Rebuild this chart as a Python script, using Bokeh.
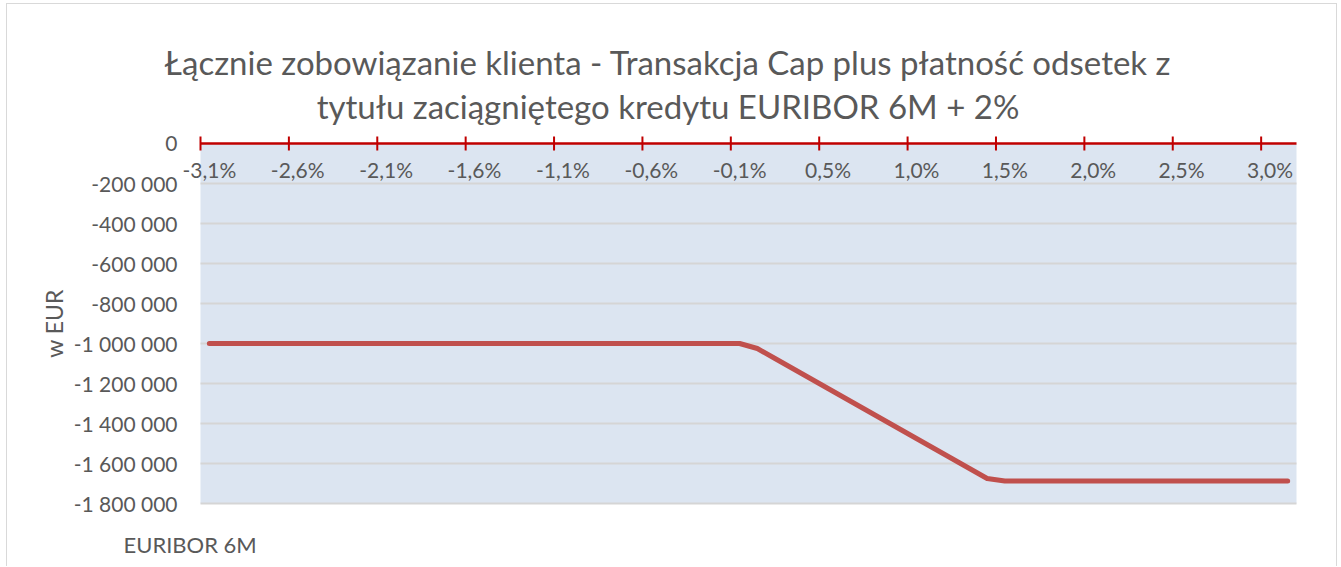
import math
from bokeh.plotting import figure
from bokeh.models import Range1d
from bokeh.core.properties import value
from bokeh.embed import file_html
from bokeh.resources import INLINE

# EURIBOR 6M scenarios (category axis)
euribor = [-3.05, -2.95, -2.85, -2.75, -2.65, -2.55, -2.45, -2.35, -2.25, -2.15,
           -2.05, -1.95, -1.85, -1.75, -1.65, -1.55, -1.45, -1.35, -1.25, -1.15,
           -1.05, -0.95, -0.85, -0.75, -0.65, -0.55, -0.45, -0.35, -0.25, -0.15,
           -0.05, 0.05, 0.15, 0.25, 0.35, 0.45, 0.55, 0.65, 0.75, 0.85,
           0.95, 1.05, 1.15, 1.25, 1.35, 1.45, 1.55, 1.65, 1.75, 1.85,
           1.95, 2.05, 2.15, 2.25, 2.35, 2.45, 2.55, 2.65, 2.75, 2.85,
           2.95, 3.05]

# total client liability, EUR
liability = [-1000000, -1000000, -1000000, -1000000, -1000000, -1000000, -1000000, -1000000,
             -1000000, -1000000, -1000000, -1000000, -1000000, -1000000, -1000000, -1000000,
             -1000000, -1000000, -1000000, -1000000, -1000000, -1000000, -1000000, -1000000,
             -1000000, -1000000, -1000000, -1000000, -1000000, -1000000, -1000000,
             -1025000, -1075000, -1125000, -1175000, -1225000, -1275000, -1325000,
             -1375000, -1425000, -1475000, -1525000, -1575000, -1625000, -1675000,
             -1687500, -1687500, -1687500, -1687500, -1687500, -1687500, -1687500,
             -1687500, -1687500, -1687500, -1687500, -1687500, -1687500, -1687500,
             -1687500, -1687500, -1687500]

x_tick_labels = ["-3,1%", "-2,6%", "-2,1%", "-1,6%", "-1,1%", "-0,6%", "-0,1%",
                 "0,5%", "1,0%", "1,5%", "2,0%", "2,5%", "3,0%"]
x_label_idx = [0, 5, 10, 15, 20, 25, 30, 35, 40, 45, 50, 55, 60]

y_ticks = [0, -200000, -400000, -600000, -800000, -1000000, -1200000, -1400000,
           -1600000, -1800000]
y_tick_labels = ["0", "-200 000", "-400 000", "-600 000", "-800 000", "-1 000 000",
                 "-1 200 000", "-1 400 000", "-1 600 000", "-1 800 000"]

title_lines = ["Łącznie zobowiązanie klienta - Transakcja Cap plus płatność odsetek z",
               "tytułu zaciągniętego kredytu EURIBOR 6M + 2%"]
y_title = "w EUR"
x_title = "EURIBOR 6M"

FONT = "Lato"
GREY = "#595959"
RED = "#C00000"

n = len(euribor)
idx = list(range(n))
cat_lo, cat_hi = -0.5, n - 0.5
y_lo, y_hi = min(y_ticks), max(y_ticks)

# canvas 1331 x 563; plot area 193..1289 px (x), 139..499 px (y)
px_per_cat = 1096 / n
px_per_eur = 360 / (y_hi - y_lo)
x_range = Range1d(cat_lo - 193 / px_per_cat, cat_hi + 42 / px_per_cat)
y_range = Range1d(y_lo - 64 / px_per_eur, y_hi + 139 / px_per_eur)

p = figure(width=1331, height=563, x_range=x_range, y_range=y_range,
           x_axis_type=None, y_axis_type=None,
           output_backend="svg", toolbar_location=None, min_border=0)
p.styles = {"margin-left": "6px", "margin-top": "3px",
            "border-left": "1px solid #D9D9D9", "border-top": "1px solid #D9D9D9",
            "border-right": "1px solid #D9D9D9"}
p.background_fill_color = "white"
p.border_fill_color = "white"
p.outline_line_color = None
p.grid.visible = False

# plot area
p.quad(left=[cat_lo], right=[cat_hi], bottom=[y_lo], top=[y_hi],
       fill_color="#DCE5F1", line_color=None)

# horizontal gridlines
p.segment(x0=[cat_lo] * (len(y_ticks) - 1), x1=[cat_hi] * (len(y_ticks) - 1),
          y0=y_ticks[1:], y1=y_ticks[1:], line_color="#D5D5D5", line_width=2)

# category axis at 0 (red) with tick marks between categories
p.segment(x0=[cat_lo], x1=[cat_hi], y0=[0], y1=[0], line_color=RED, line_width=2.5)
p.scatter(x=[i - 0.5 for i in x_label_idx], y=[0] * len(x_label_idx), marker="dash",
          angle=math.pi / 2, size=14, line_color=RED, line_width=2)

# series
p.line(x=idx, y=liability, line_color="#C0504D", line_width=5,
       line_cap="round", line_join="round")

# x tick labels (under the axis line)
p.text(x=x_label_idx, y=[0] * len(x_label_idx), text=x_tick_labels,
       text_align="center", text_baseline="middle", y_offset=26,
       text_font=value(FONT), text_font_size="21px", text_color=GREY)

# y tick labels
p.text(x=[cat_lo] * len(y_ticks), y=y_ticks, text=y_tick_labels, x_offset=-23,
       text_align="right", text_baseline="middle",
       text_font=value(FONT), text_font_size="21px", text_color=GREY)

# axis titles
p.text(x=[cat_lo], y=[(y_lo + y_hi) / 2], text=[y_title], x_offset=-147, angle=math.pi / 2,
       text_align="center", text_baseline="middle",
       text_font=value(FONT), text_font_size="23px", text_color=GREY)
p.text(x=[cat_lo], y=[y_lo], text=[x_title], x_offset=-77, y_offset=41,
       text_align="left", text_baseline="middle",
       text_font=value(FONT), text_font_size="22px", text_color=GREY)

# chart title (two lines)
x_mid = (x_range.start + x_range.end) / 2
p.text(x=[x_mid, x_mid], y=[y_hi, y_hi], text=title_lines, x_offset=-5,
       y_offset=[-82, -38], text_align="center", text_baseline="middle",
       text_font=value(FONT), text_font_size="33px", text_color=GREY)

open("out.html", "w").write(file_html(p, INLINE))
